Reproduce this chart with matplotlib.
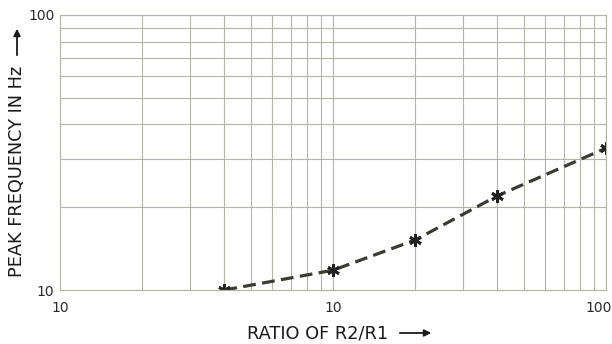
import numpy as np
import matplotlib.pyplot as plt
import matplotlib.transforms as mtrans
from matplotlib.ticker import FixedLocator, NullFormatter, LogLocator

# values
ratio = [4, 10, 20, 40, 100]
peak_hz = [10.0, 11.8, 15.2, 22.0, 32.8]
x_ticks = [1, 10, 100]
x_tick_labels = ["10", "10", "100"]
y_ticks = [10, 100]
y_tick_labels = ["10", "100"]

fig = plt.figure(figsize=(6.12, 3.44), dpi=100)
ax = fig.add_axes([60 / 612, 1 - 290 / 344, 546 / 612, 275 / 344])

ax.set_xscale("log")
ax.set_yscale("log")
ax.set_xlim(1, 100)
ax.set_ylim(10, 100)

# grid like printed log paper
grid_col = "#b3b5a8"
ax.xaxis.set_minor_locator(LogLocator(base=10, subs=np.arange(2, 10)))
ax.yaxis.set_minor_locator(LogLocator(base=10, subs=np.arange(2, 10)))
ax.xaxis.set_minor_formatter(NullFormatter())
ax.yaxis.set_minor_formatter(NullFormatter())
ax.grid(True, which="both", color=grid_col, lw=0.8)
for s in ax.spines.values():
    s.set_color(grid_col)
    s.set_linewidth(0.8)

ax.xaxis.set_major_locator(FixedLocator(x_ticks))
ax.yaxis.set_major_locator(FixedLocator(y_ticks))
ax.set_xticklabels(x_tick_labels)
ax.set_yticklabels(y_tick_labels)
ax.tick_params(which="both", length=0, labelsize=10, colors="#2a2a2a")
ax.tick_params(axis="x", pad=8)
ax.tick_params(axis="y", pad=4)
last = ax.get_xticklabels()[-1]
last.set_horizontalalignment("right")
last.set_transform(last.get_transform() +
                   mtrans.ScaledTranslation(6 / 100, 0, fig.dpi_scale_trans))

# data curve
ax.plot(ratio, peak_hz, ls=(0, (4, 2)), lw=2.3, color="#3b3b34",
        marker=(6, 2, 0), ms=9, mew=2, mec="#222222")

# axis titles with arrows
fig.text(388 / 612, 1 - 333 / 344, "RATIO OF R2/R1", ha="right", va="center",
         fontsize=12.8, color="#1a1a1a")
fig.text(17 / 612, 1 - 171 / 344, "PEAK FREQUENCY IN Hz", ha="center",
         va="center", rotation=90, fontsize=12.8, color="#1a1a1a")
ax.annotate("", xy=(434 / 612, 1 - 333 / 344), xytext=(397 / 612, 1 - 333 / 344),
            xycoords="figure fraction",
            arrowprops=dict(arrowstyle="-|>", color="#1a1a1a", lw=1.3,
                            mutation_scale=10))
ax.annotate("", xy=(17 / 612, 1 - 26 / 344), xytext=(17 / 612, 1 - 58 / 344),
            xycoords="figure fraction",
            arrowprops=dict(arrowstyle="-|>", color="#1a1a1a", lw=1.3,
                            mutation_scale=10))

fig.savefig("out.png", dpi=100)
